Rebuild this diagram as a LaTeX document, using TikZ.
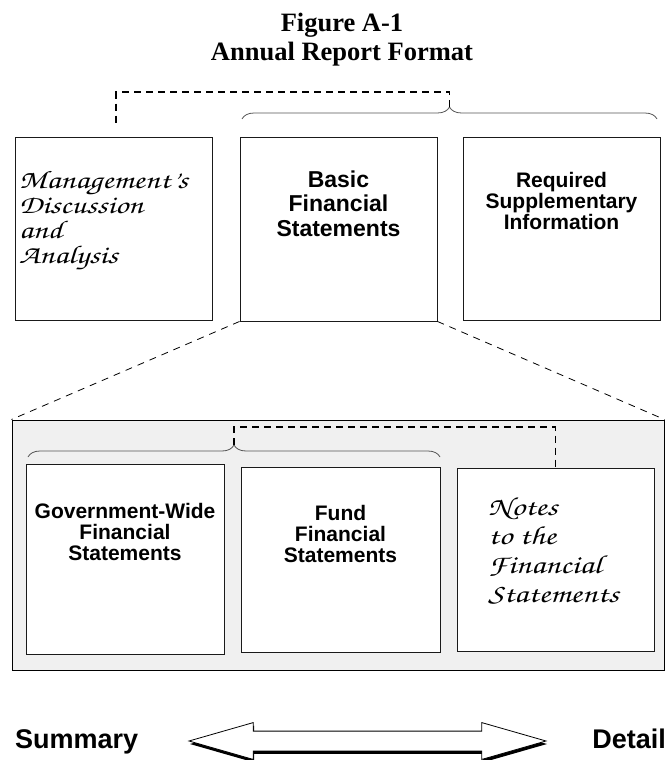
\documentclass[tikz,border=0pt]{standalone}
\usepackage[T1]{fontenc}
\usepackage{fontspec}
\usepackage{graphicx}
\setmainfont{Liberation Serif}
\setsansfont{Liberation Sans}
\usetikzlibrary{positioning,calc,decorations.pathreplacing,shapes.arrows,shadows}
\definecolor{cPanel}{HTML}{F0F0F0}
\definecolor{cEdge}{HTML}{1A1A1A}
\definecolor{cBrace}{HTML}{555555}
\newcommand{\chancery}{\fontencoding{T1}\fontfamily{pzc}\fontseries{mb}\fontshape{it}\selectfont}
\newcommand{\wscr}[1]{\scalebox{1.28}[1]{#1}}
\tikzset{
  box/.style   ={draw=cEdge, line width=0.9pt, fill=white, inner sep=0pt},
  panel/.style ={draw=black, line width=1pt, fill=cPanel, inner sep=0pt},
  ttl/.style   ={font=\fontsize{26.5}{28}\selectfont\bfseries, anchor=base, inner sep=0pt},
  hd/.style    ={font=\fontsize{23}{24.5}\selectfont\sffamily\bfseries, align=center, anchor=north, inner sep=0pt},
  hdsm/.style  ={font=\fontsize{21}{21}\selectfont\sffamily\bfseries, align=center, anchor=north, inner sep=0pt},
  hdlow/.style ={font=\fontsize{21}{21}\selectfont\sffamily\bfseries, align=center, anchor=north, inner sep=0pt},
  scr/.style   ={font=\fontsize{25.5}{25}\chancery, align=left, anchor=north west, inner sep=0pt},
  scrlow/.style={font=\fontsize{26}{29}\chancery, align=left, anchor=north west, inner sep=0pt},
  curly/.style ={decorate, decoration={brace, amplitude=12pt}, draw=cBrace, line width=0.8pt},
  link/.style  ={draw=black, line width=1.4pt, dash pattern=on 7pt off 5pt},
  zoomln/.style={draw=black, line width=0.8pt, dash pattern=on 7pt off 6pt},
  ends/.style  ={font=\fontsize{27}{30}\selectfont\sffamily\bfseries, inner sep=0pt},
}

\begin{document}
\begin{tikzpicture}[x=1pt, y=-1pt]
  \useasboundingbox (0,0) rectangle (666,760);
  \node[ttl] (fig) at (342,32) {Figure A-1};
  \node[ttl] (title) at (342,60) {Annual Report Format};

  % upper row
  \node[box, minimum width=197pt, minimum height=183pt] (mda) at (113.5,228.5) {};
  \node[box, minimum width=197pt, minimum height=184pt] (basic) at (338.5,229) {};
  \node[box, minimum width=197pt, minimum height=183pt] (req) at (561.5,228.5) {};
  \node[scr] (mdaT) at (19,170) {\wscr{Management's}\\\wscr{Discussion}\\\wscr{and}\\\wscr{Analysis}};
  \node[hd] (basicT) at (basic.north |- 0,170.5) {Basic\\Financial\\Statements};
  \node[hdsm] (reqT) at (req.north |- 0,172) {Required\\Supplementary\\Information};

  \coordinate (bl) at (242,119);
  \coordinate (br) at (657,119);
  \coordinate (tip) at (449.5,107);
  \draw[curly] (bl) -- (br);
  \draw[link] (tip) -- ++(0,-15) -| ($(mda.north)+(2.5,-12)$);

  % lower panel
  \node[panel, minimum width=652pt, minimum height=250pt] (lower) at (338,545) {};
  \draw[zoomln] (basic.south west) -- (lower.north west);
  \draw[zoomln] (basic.south east) -- (lower.north east);

  \node[box, minimum width=198pt, minimum height=190pt] (gov) at (125,559) {};
  \node[box, minimum width=199pt, minimum height=185pt] (fund) at (340.5,559.5) {};
  \node[box, minimum width=197pt, minimum height=183pt] (notes) at (555.5,559.5) {};
  \node[hdlow] (govT) at (gov.north |- 0,503) {Government-Wide\\Financial\\Statements};
  \node[hdlow] (fundT) at (fund.north |- 0,505) {Fund\\Financial\\Statements};
  \node[scrlow] (notesT) at (488,497) {\wscr{Notes}\\\wscr{to the}\\\wscr{Financial}\\\wscr{Statements}};

  \coordinate (ibl) at (28,457);
  \coordinate (ibr) at (440,457);
  \coordinate (itip) at (234,445);
  \draw[curly] (ibl) -- (ibr);
  \draw[link] (itip) -- ++(0,-18) -| (notes.north);

  % summary to detail
  \node[ends, anchor=base west] (sum) at (15,748) {Summary};
  \node[ends, anchor=base east] (det) at (666,748) {Detail};
  \node[double arrow, draw=black, line width=0.8pt, fill=white,
        minimum height=357pt, minimum width=36pt, inner xsep=0pt, inner ysep=9.5pt,
        double arrow head extend=8.5pt, double arrow tip angle=32,
        drop shadow={fill=black, opacity=1, shadow xshift=1pt, shadow yshift=-3pt}]
        (dbl) at (367.5,741) {};
\end{tikzpicture}
\end{document}
